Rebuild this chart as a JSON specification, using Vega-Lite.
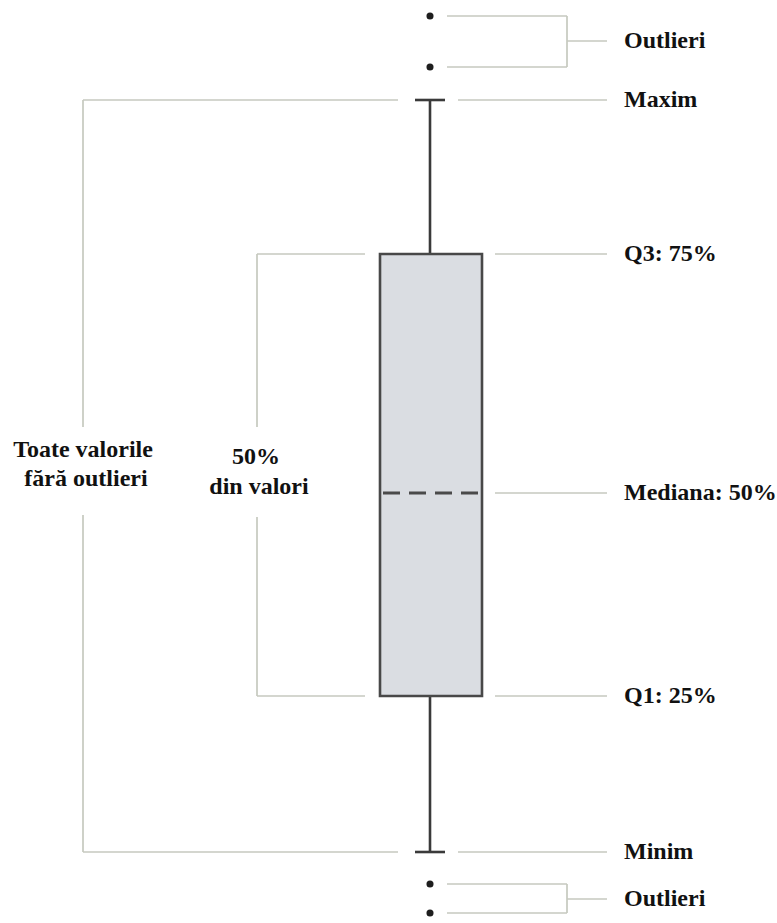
{
  "$schema": "https://vega.github.io/schema/vega-lite/v6.json",
  "width": 777,
  "height": 923,
  "autosize": {"type": "fit", "contains": "padding"},
  "padding": 0,
  "background": "white",
  "config": {"view": {"stroke": null}},
  "datasets": {
    "guides": [
      {"x1": 447, "x2": 567, "y1": 16, "y2": 16},
      {"x1": 447, "x2": 567, "y1": 67, "y2": 67},
      {"x1": 567, "x2": 567, "y1": 16, "y2": 67},
      {"x1": 567, "x2": 607, "y1": 41, "y2": 41},
      {"x1": 83, "x2": 398, "y1": 100, "y2": 100},
      {"x1": 458, "x2": 607, "y1": 100, "y2": 100},
      {"x1": 83, "x2": 83, "y1": 100, "y2": 427},
      {"x1": 83, "x2": 83, "y1": 515, "y2": 852},
      {"x1": 83, "x2": 398, "y1": 852, "y2": 852},
      {"x1": 458, "x2": 607, "y1": 852, "y2": 852},
      {"x1": 257, "x2": 365, "y1": 254, "y2": 254},
      {"x1": 495, "x2": 607, "y1": 254, "y2": 254},
      {"x1": 257, "x2": 257, "y1": 254, "y2": 427},
      {"x1": 257, "x2": 257, "y1": 517, "y2": 696},
      {"x1": 257, "x2": 365, "y1": 696, "y2": 696},
      {"x1": 495, "x2": 607, "y1": 696, "y2": 696},
      {"x1": 495, "x2": 607, "y1": 493, "y2": 493},
      {"x1": 447, "x2": 567, "y1": 884, "y2": 884},
      {"x1": 447, "x2": 567, "y1": 913, "y2": 913},
      {"x1": 567, "x2": 567, "y1": 884, "y2": 913},
      {"x1": 567, "x2": 607, "y1": 899, "y2": 899}
    ],
    "whiskers": [
      {"x1": 430, "x2": 430, "y1": 100, "y2": 254},
      {"x1": 430, "x2": 430, "y1": 696, "y2": 852},
      {"x1": 415, "x2": 445, "y1": 100, "y2": 100},
      {"x1": 415, "x2": 445, "y1": 852, "y2": 852}
    ],
    "box": [{"x1": 380, "x2": 482, "y1": 254, "y2": 696}],
    "median": [{"x1": 383, "x2": 480, "y1": 493, "y2": 493}],
    "outliers": [
      {"x": 430, "y": 16},
      {"x": 430, "y": 67},
      {"x": 430, "y": 884},
      {"x": 430, "y": 913}
    ],
    "rightLabels": [
      {"x": 624, "y": 41, "label": "Outlieri"},
      {"x": 624, "y": 100, "label": "Maxim"},
      {"x": 624, "y": 254, "label": "Q3: 75%"},
      {"x": 624, "y": 493, "label": "Mediana: 50%"},
      {"x": 624, "y": 696, "label": "Q1: 25%"},
      {"x": 624, "y": 852, "label": "Minim"},
      {"x": 624, "y": 899, "label": "Outlieri"}
    ],
    "leftLabels": [
      {"x": 83, "y": 450, "label": "Toate valorile"},
      {"x": 86, "y": 479, "label": "fără outlieri"},
      {"x": 256, "y": 457, "label": "50%"},
      {"x": 259, "y": 487, "label": "din valori"}
    ]
  },
  "layer": [
    {
      "data": {"name": "guides"},
      "mark": {"type": "rule", "color": "#c6c9bf", "strokeWidth": 1.7},
      "encoding": {
        "x": {"field": "x1", "type": "quantitative", "scale": {"domain": [0, 777], "nice": false, "zero": false}, "axis": null},
        "x2": {"field": "x2"},
        "y": {"field": "y1", "type": "quantitative", "scale": {"domain": [0, 923], "nice": false, "zero": false, "reverse": true}, "axis": null},
        "y2": {"field": "y2"}
      }
    },
    {
      "data": {"name": "whiskers"},
      "mark": {"type": "rule", "color": "#3a3a3a", "strokeWidth": 2.6},
      "encoding": {
        "x": {"field": "x1", "type": "quantitative"},
        "x2": {"field": "x2"},
        "y": {"field": "y1", "type": "quantitative"},
        "y2": {"field": "y2"}
      }
    },
    {
      "data": {"name": "box"},
      "mark": {"type": "rect", "fill": "#dadde2", "stroke": "#484848", "strokeWidth": 2.6},
      "encoding": {
        "x": {"field": "x1", "type": "quantitative"},
        "x2": {"field": "x2"},
        "y": {"field": "y1", "type": "quantitative"},
        "y2": {"field": "y2"}
      }
    },
    {
      "data": {"name": "median"},
      "mark": {"type": "rule", "color": "#4a4a4a", "strokeWidth": 2.8, "strokeDash": [17, 9]},
      "encoding": {
        "x": {"field": "x1", "type": "quantitative"},
        "x2": {"field": "x2"},
        "y": {"field": "y1", "type": "quantitative"},
        "y2": {"field": "y2"}
      }
    },
    {
      "data": {"name": "outliers"},
      "mark": {"type": "circle", "color": "#1e1e1e", "opacity": 1, "size": 50},
      "encoding": {
        "x": {"field": "x", "type": "quantitative"},
        "y": {"field": "y", "type": "quantitative"}
      }
    },
    {
      "data": {"name": "rightLabels"},
      "mark": {"type": "text", "align": "left", "baseline": "middle", "font": "Liberation Serif", "fontWeight": "bold", "fontSize": 24, "color": "#111111"},
      "encoding": {
        "x": {"field": "x", "type": "quantitative"},
        "y": {"field": "y", "type": "quantitative"},
        "text": {"field": "label"}
      }
    },
    {
      "data": {"name": "leftLabels"},
      "mark": {"type": "text", "align": "center", "baseline": "middle", "font": "Liberation Serif", "fontWeight": "bold", "fontSize": 24, "color": "#111111"},
      "encoding": {
        "x": {"field": "x", "type": "quantitative"},
        "y": {"field": "y", "type": "quantitative"},
        "text": {"field": "label"}
      }
    }
  ]
}
